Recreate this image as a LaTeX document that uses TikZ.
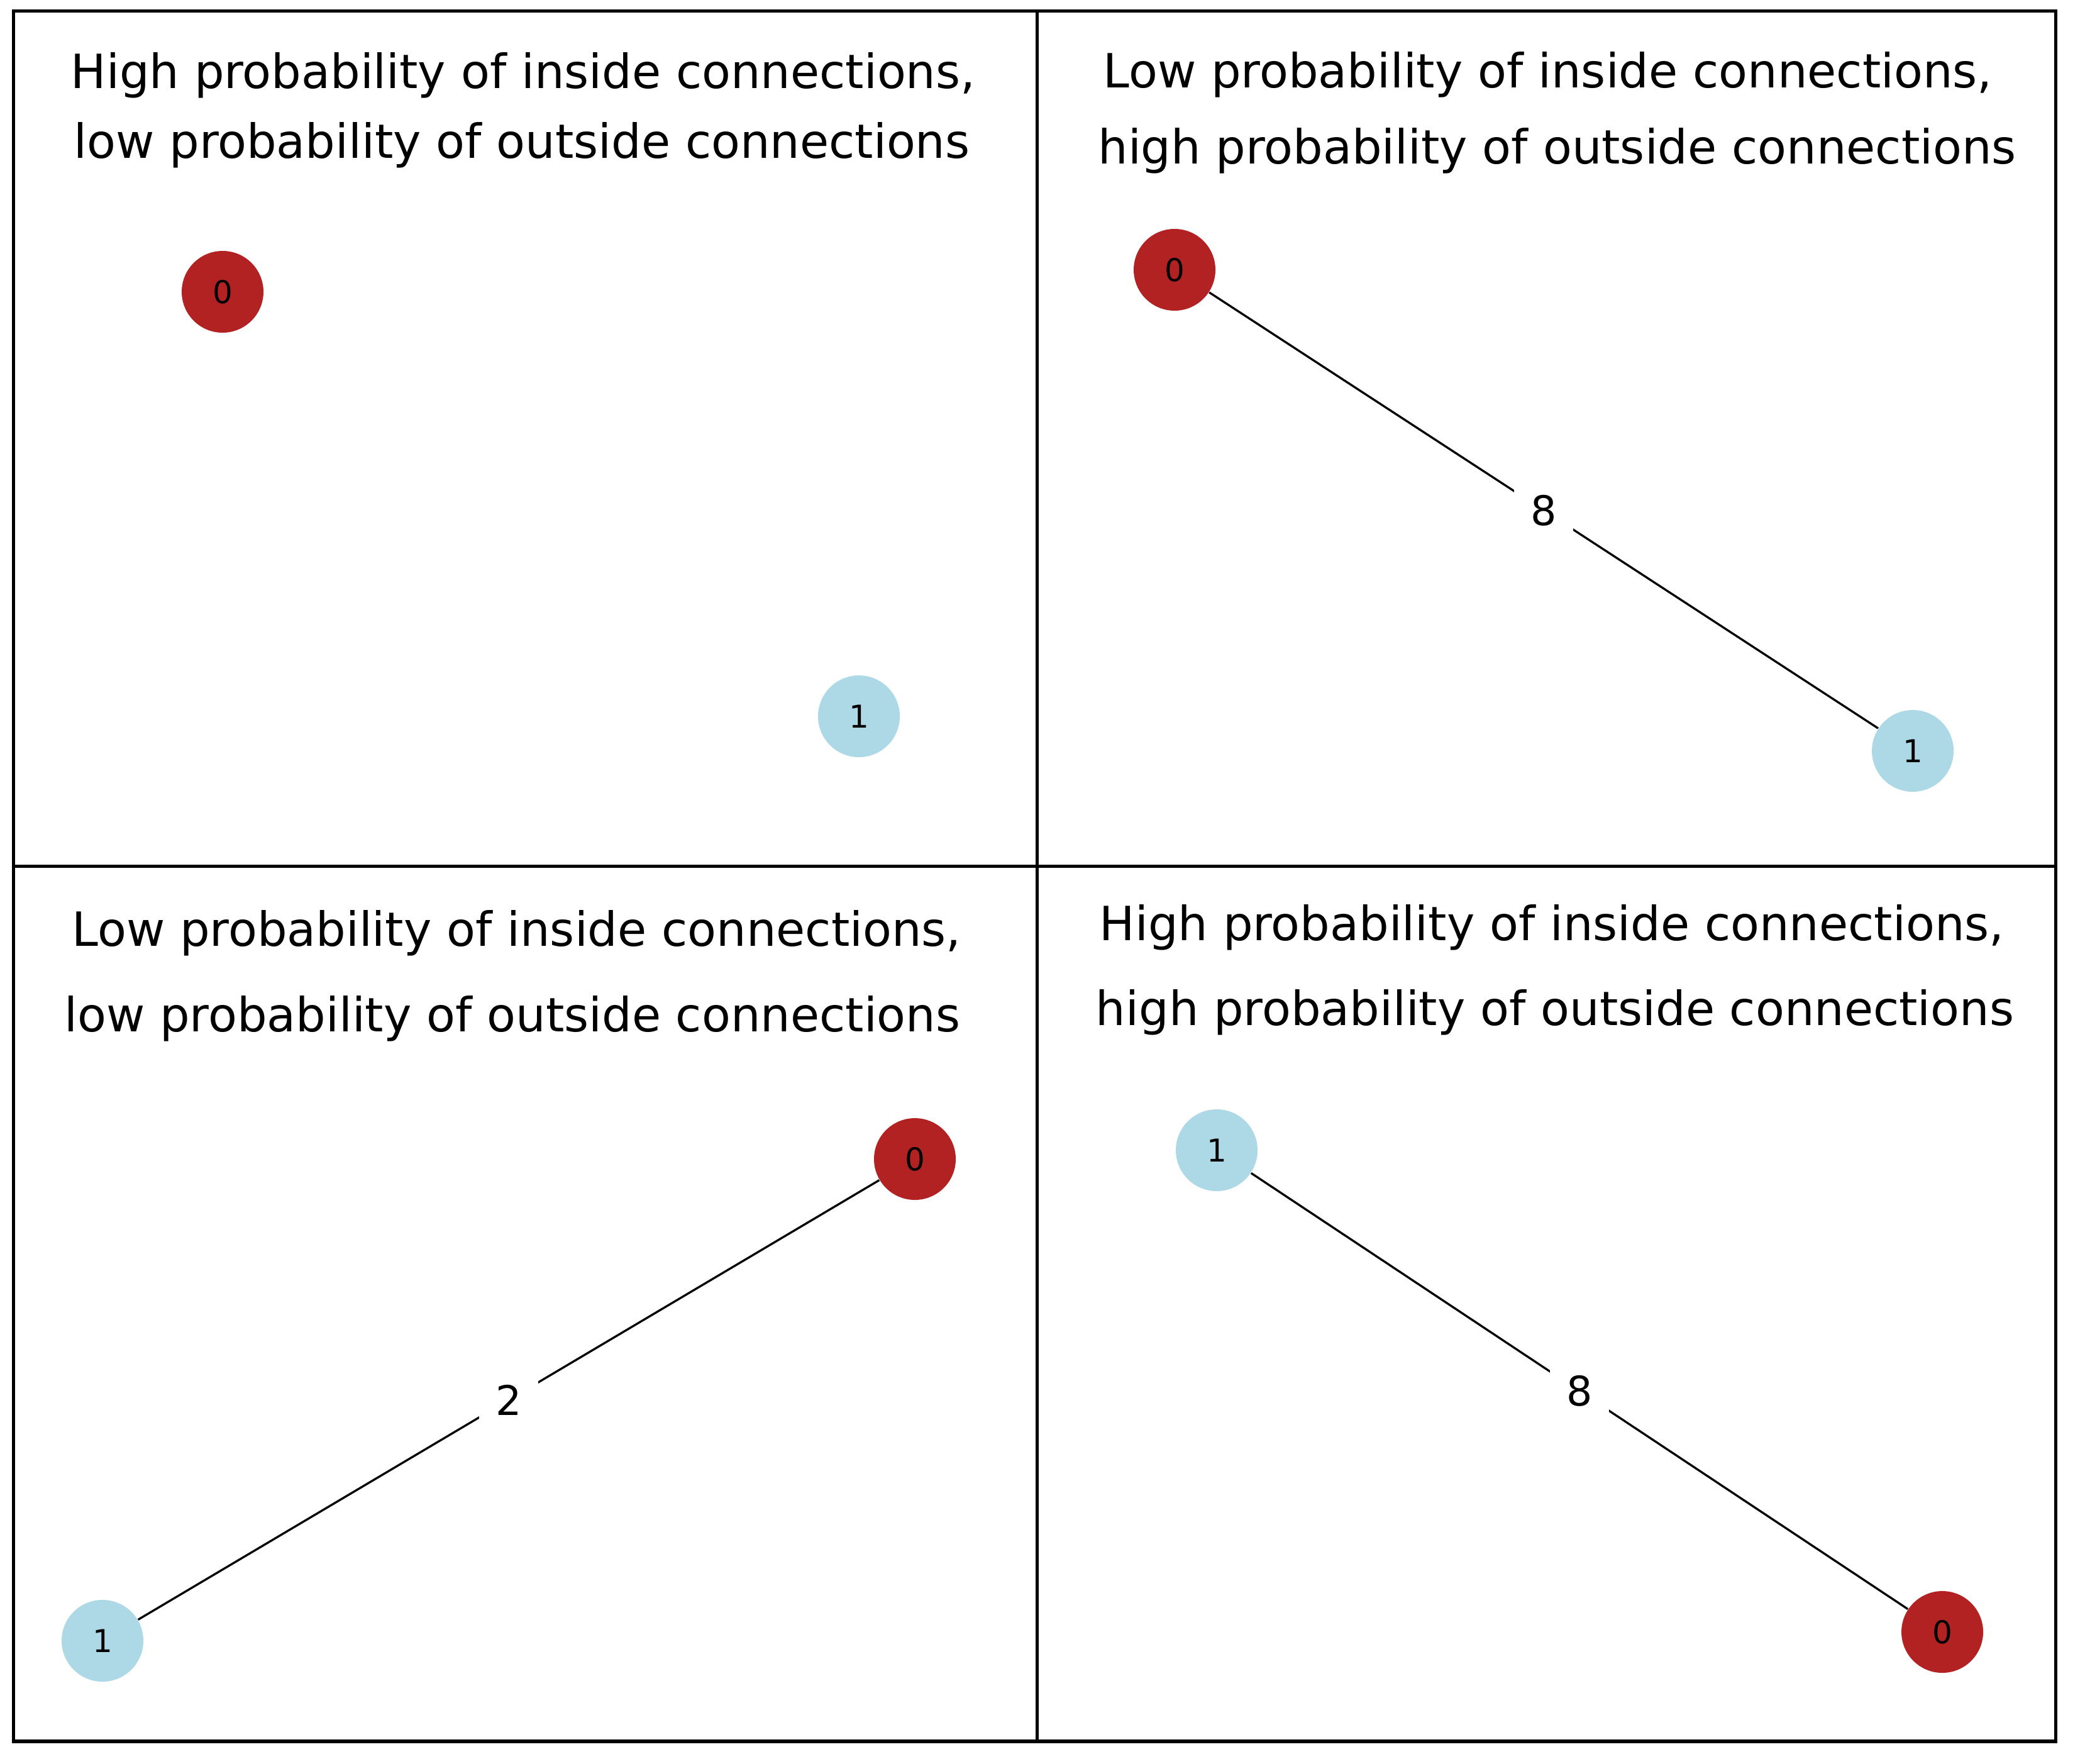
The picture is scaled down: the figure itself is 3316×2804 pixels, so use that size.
\documentclass[tikz,border=0pt]{standalone}
\usepackage{fontspec}
\setmainfont{DejaVu Sans}
\definecolor{fbrick}{RGB}{178,34,34}
\definecolor{lblue}{RGB}{173,216,230}
\tikzset{
  panel/.style={draw=black, line width=1.28pt},
  rnode/.style={circle, fill=fbrick, inner sep=0pt, minimum size=31.2pt, font=\fontsize{12}{14}\selectfont},
  bnode/.style={circle, fill=lblue, inner sep=0pt, minimum size=31.2pt, font=\fontsize{12}{14}\selectfont},
  edgeline/.style={draw=black, line width=0.8pt},
  elabel/.style={fill=white, inner sep=0pt, minimum width=22.6pt, minimum height=26pt, font=\fontsize{15.6}{18}\selectfont},
  ttl/.style={anchor=base, inner sep=0pt, font=\fontsize{18}{22}\selectfont}
}
\begin{document}
\begin{tikzpicture}[x=0.24pt, y=-0.24pt]
\useasboundingbox (0,0) rectangle (3316,2804);
% panels
\draw[panel] (21.7,17.7) rectangle (1649.3,1377.3);
\draw[panel] (1649.3,17.7) rectangle (3269.3,1377.3);
\draw[panel] (21.7,1377.3) rectangle (1649.3,2769);
\draw[panel] (1649.3,1377.3) rectangle (3269.3,2769);
% titles
\node[ttl] (t1a) at (832,140.5) {High probability of inside connections,};
\node[ttl] (t1b) at (830,252) {low probability of outside connections};
\node[ttl] (t2a) at (2461.6,139) {Low probability of inside connections,};
\node[ttl] (t2b) at (2476.5,261) {high probability of outside connections};
\node[ttl] (t3a) at (821.6,1504) {Low probability of inside connections,};
\node[ttl] (t3b) at (814.8,1640) {low probability of outside connections};
\node[ttl] (t4a) at (2468,1495) {High probability of inside connections,};
\node[ttl] (t4b) at (2473,1630.5) {high probability of outside connections};
% panel 1
\node[rnode] (a0) at (354,464) {0};
\node[bnode] (a1) at (1366,1139) {1};
% panel 2
\node[rnode] (b0) at (1868,429) {0};
\node[bnode] (b1) at (3042,1194) {1};
\draw[edgeline] (b0) -- node[elabel] (bl) {8} (b1);
% panel 3
\node[rnode] (c0) at (1455,1843) {0};
\node[bnode] (c1) at (163,2609) {1};
\draw[edgeline] (c0) -- node[elabel] (cl) {2} (c1);
% panel 4
\node[bnode] (d1) at (1935,1829) {1};
\node[rnode] (d0) at (3089,2595) {0};
\draw[edgeline] (d1) -- node[elabel] (dl) {8} (d0);
\end{tikzpicture}
\end{document}
